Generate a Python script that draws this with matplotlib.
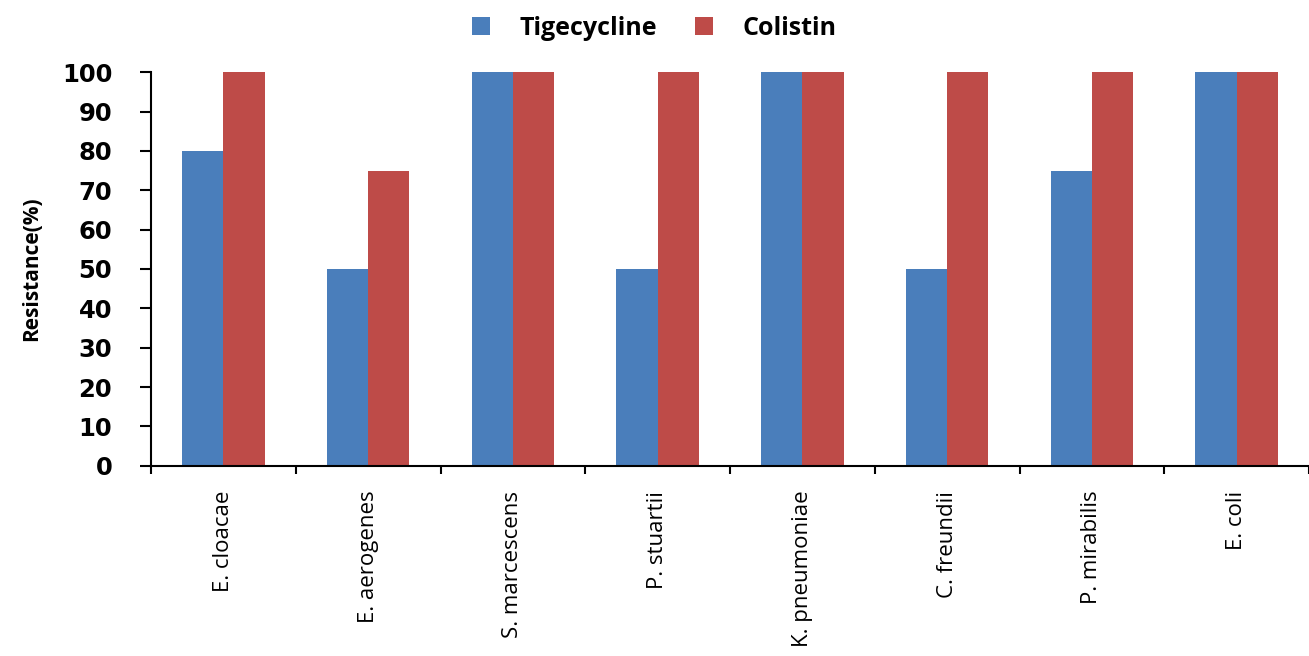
import numpy as np
import matplotlib.pyplot as plt

# dati
species = ["E. cloacae", "E. aerogenes", "S. marcescens", "P. stuartii",
           "K. pneumoniae", "C. freundii", "P. mirabilis", "E. coli"]
tigecycline = [80, 50, 100, 50, 100, 50, 75, 100]
colistin = [100, 75, 100, 100, 100, 100, 100, 100]

plt.rcParams['font.family'] = ['Open Sans', 'DejaVu Sans']

fig = plt.figure(figsize=(13.09, 6.56), dpi=100)
ax = fig.add_axes([0.1154, 0.29, 0.8846, 0.60])

x = np.arange(len(species))
w = 0.285
ax.bar(x - w/2, tigecycline, w, color='#4a7ebb', label='Tigecycline')
ax.bar(x + w/2, colistin, w, color='#be4b48', label='Colistin')

ax.set_xlim(-0.5, len(species) - 0.5)
ax.set_ylim(0, 100)
ax.set_yticks(np.arange(0, 101, 10))
ax.tick_params(axis='y', labelsize=17.5, width=1.5, length=8, direction='out', pad=20)
for t in ax.get_yticklabels():
    t.set_fontweight('bold')
    t.set_family('DejaVu Sans')

# tick sull'asse x tra le categorie
ax.set_xticks(np.arange(-0.5, len(species), 1))
ax.set_xticklabels([])
ax.set_xticks(x, minor=True)
ax.set_xticklabels(species, minor=True, rotation=90, fontsize=16)
ax.tick_params(axis='x', which='minor', length=0, pad=18)
ax.tick_params(axis='x', which='major', length=6, width=1.5, direction='out')

ax.spines['top'].set_visible(False)
ax.spines['right'].set_visible(False)
ax.spines['left'].set_linewidth(1.5)
ax.spines['bottom'].set_linewidth(1.5)

ax.set_ylabel("Resistance(%)", fontsize=15, fontweight='bold', labelpad=14)

fig.legend(loc='upper center', bbox_to_anchor=(0.5, 1.01), ncol=2, frameon=False,
           handlelength=0.7, handleheight=0.7, handletextpad=1.2, columnspacing=1.5,
           prop={'weight': 'bold', 'size': 18})

fig.savefig('out.png', dpi=100)
